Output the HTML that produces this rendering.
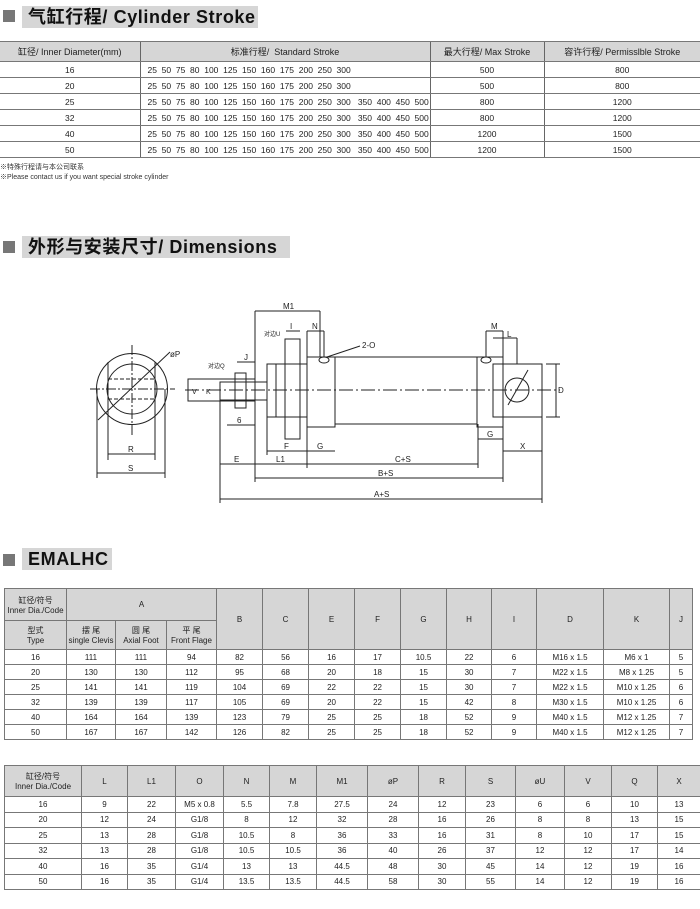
<!DOCTYPE html>
<html><head><meta charset="utf-8"><style>
*{margin:0;padding:0;box-sizing:border-box}
body{width:700px;height:909px;background:#fff;position:relative;overflow:hidden;font-family:"Liberation Sans","Noto Sans CJK SC",sans-serif;color:#222}
.sq{position:absolute;left:3px;width:12px;height:12px;background:#777}
.tt{position:absolute;left:22px;background:#d6d6d6;font-weight:bold;font-size:18px;letter-spacing:0.6px;line-height:22px;padding-left:6px;color:#111;height:22px;white-space:nowrap}
table{position:absolute;border-collapse:collapse;table-layout:fixed}
td{text-align:center;font-size:8px;border:1px solid #777;padding:0;overflow:hidden;white-space:nowrap}
.g{background:#d6d6d6}
#t1 td{border-left:none;border-right:none;font-size:8.5px}
#t1 td.c{border-left:1.5px solid #666}
#t1 tr td{border-bottom:1.5px solid #777}
.n{position:absolute;left:0;font-size:7px;color:#333}
</style></head><body>
<div class="sq" style="top:10px"></div>
<div class="tt" style="top:6px;width:236px">气缸行程/ Cylinder Stroke</div>
<table id="t1" style="left:0;top:41px;width:700px">
<colgroup><col style="width:140px"><col style="width:290px"><col style="width:114px"><col style="width:156px"></colgroup>
<tr class="g" style="height:20px"><td style="font-size:9px">缸径/ Inner Diameter(mm)</td><td class="c" style="font-size:9px">标准行程/&nbsp; Standard Stroke</td><td class="c" style="font-size:9px">最大行程/ Max Stroke</td><td class="c" style="font-size:9px">容许行程/ Permisslble Stroke</td></tr>
<tr style="height:16px"><td>16</td><td class="c" style="text-align:left;padding-left:7px">25&nbsp; 50&nbsp; 75&nbsp; 80&nbsp; 100&nbsp; 125&nbsp; 150&nbsp; 160&nbsp; 175&nbsp; 200&nbsp; 250&nbsp; 300</td><td class="c">500</td><td class="c">800</td></tr>
<tr style="height:16px"><td>20</td><td class="c" style="text-align:left;padding-left:7px">25&nbsp; 50&nbsp; 75&nbsp; 80&nbsp; 100&nbsp; 125&nbsp; 150&nbsp; 160&nbsp; 175&nbsp; 200&nbsp; 250&nbsp; 300</td><td class="c">500</td><td class="c">800</td></tr>
<tr style="height:16px"><td>25</td><td class="c" style="text-align:left;padding-left:7px">25&nbsp; 50&nbsp; 75&nbsp; 80&nbsp; 100&nbsp; 125&nbsp; 150&nbsp; 160&nbsp; 175&nbsp; 200&nbsp; 250&nbsp; 300&nbsp;&nbsp; 350&nbsp; 400&nbsp; 450&nbsp; 500</td><td class="c">800</td><td class="c">1200</td></tr>
<tr style="height:16px"><td>32</td><td class="c" style="text-align:left;padding-left:7px">25&nbsp; 50&nbsp; 75&nbsp; 80&nbsp; 100&nbsp; 125&nbsp; 150&nbsp; 160&nbsp; 175&nbsp; 200&nbsp; 250&nbsp; 300&nbsp;&nbsp; 350&nbsp; 400&nbsp; 450&nbsp; 500</td><td class="c">800</td><td class="c">1200</td></tr>
<tr style="height:16px"><td>40</td><td class="c" style="text-align:left;padding-left:7px">25&nbsp; 50&nbsp; 75&nbsp; 80&nbsp; 100&nbsp; 125&nbsp; 150&nbsp; 160&nbsp; 175&nbsp; 200&nbsp; 250&nbsp; 300&nbsp;&nbsp; 350&nbsp; 400&nbsp; 450&nbsp; 500</td><td class="c">1200</td><td class="c">1500</td></tr>
<tr style="height:16px"><td>50</td><td class="c" style="text-align:left;padding-left:7px">25&nbsp; 50&nbsp; 75&nbsp; 80&nbsp; 100&nbsp; 125&nbsp; 150&nbsp; 160&nbsp; 175&nbsp; 200&nbsp; 250&nbsp; 300&nbsp;&nbsp; 350&nbsp; 400&nbsp; 450&nbsp; 500</td><td class="c">1200</td><td class="c">1500</td></tr>
</table>
<div class="n" style="top:162px">※特殊行程请与本公司联系</div>
<div class="n" style="top:172px">※Please contact us if you want special stroke cylinder</div>

<div class="sq" style="top:241px"></div>
<div class="tt" style="top:236px;width:268px">外形与安装尺寸/ Dimensions</div>

<svg style="position:absolute;left:0;top:0" width="700" height="909" font-family="Liberation Sans, sans-serif" font-size="8" fill="none" stroke="#222" stroke-width="1">
<circle cx="132" cy="389" r="35.5"/>
<circle cx="132" cy="389" r="25"/>
<line x1="108" y1="362" x2="108" y2="460"/><line x1="155" y1="362" x2="155" y2="460"/>
<line x1="97" y1="389" x2="97" y2="478"/><line x1="165" y1="389" x2="165" y2="478"/>
<line x1="108" y1="379" x2="155" y2="379" stroke-dasharray="4,2"/><line x1="108" y1="399" x2="155" y2="399" stroke-dasharray="4,2"/>
<line x1="90" y1="389" x2="175" y2="389" stroke-dasharray="10,2,2,2"/>
<line x1="132" y1="345" x2="132" y2="435" stroke-dasharray="10,2,2,2"/>
<line x1="98" y1="420" x2="170" y2="352"/>
<line x1="108" y1="454" x2="155" y2="454"/><line x1="97" y1="473" x2="165" y2="473"/>
<text x="128" y="452" fill="#222" stroke="none">R</text><text x="128" y="471" fill="#222" stroke="none">S</text>
<text x="170" y="357" fill="#222" stroke="none">øP</text>
<line x1="185" y1="390" x2="560" y2="390" stroke-dasharray="14,3,2,3"/>
<rect x="188" y="379" width="67" height="22"/>
<rect x="220" y="382" width="47" height="18"/>
<rect x="235" y="373" width="11" height="35"/>
<rect x="267" y="364" width="40" height="53"/>
<line x1="276" y1="364" x2="276" y2="417"/>
<rect x="285" y="339" width="15" height="100"/>
<rect x="307" y="357" width="28" height="70"/>
<rect x="335" y="357" width="142" height="67"/>
<rect x="477" y="357" width="26" height="70"/>
<rect x="493" y="364" width="49" height="53"/>
<circle cx="517" cy="390" r="12"/>
<line x1="508" y1="405" x2="528" y2="370"/>
<ellipse cx="324" cy="360" rx="5" ry="3"/><ellipse cx="486" cy="360" rx="5" ry="3"/>
<line x1="327" y1="357" x2="360" y2="346"/>
<text x="362" y="348" fill="#222" stroke="none">2-O</text>
<line x1="255" y1="311" x2="255" y2="482"/><line x1="320" y1="311" x2="320" y2="357"/>
<line x1="220" y1="400" x2="220" y2="503"/><line x1="307" y1="427" x2="307" y2="468"/>
<line x1="267" y1="417" x2="267" y2="455"/><line x1="503" y1="427" x2="503" y2="482"/>
<line x1="478" y1="424" x2="478" y2="468"/><line x1="542" y1="417" x2="542" y2="503"/>
<line x1="546" y1="364" x2="560" y2="364"/><line x1="546" y1="417" x2="560" y2="417"/><line x1="556" y1="364" x2="556" y2="417"/>
<text x="558" y="393" fill="#222" stroke="none">D</text>
<line x1="255" y1="311" x2="320" y2="311"/><text x="283" y="309" fill="#222" stroke="none">M1</text>
<line x1="307" y1="331" x2="324" y2="331"/><text x="312" y="329" fill="#222" stroke="none">N</text>
<line x1="307" y1="331" x2="307" y2="357"/><line x1="324" y1="331" x2="324" y2="357"/>
<line x1="286" y1="331" x2="300" y2="331"/><text x="290" y="329" fill="#222" stroke="none">I</text>
<line x1="486" y1="331" x2="503" y2="331"/><text x="491" y="329" fill="#222" stroke="none">M</text>
<line x1="486" y1="331" x2="486" y2="357"/><line x1="503" y1="331" x2="503" y2="357"/>
<line x1="493" y1="338" x2="517" y2="338"/><line x1="517" y1="338" x2="517" y2="364"/><text x="507" y="337" fill="#222" stroke="none">L</text>
<line x1="237" y1="362" x2="255" y2="362"/><text x="244" y="360" fill="#222" stroke="none">J</text>
<text x="208" y="368" fill="#222" stroke="none" font-size="6">对边Q</text>
<text x="264" y="336" fill="#222" stroke="none" font-size="6">对边U</text>
<line x1="188" y1="379" x2="188" y2="401"/><text x="192" y="394" fill="#222" stroke="none" font-size="7">V</text>
<text x="206" y="394" fill="#222" stroke="none" font-size="7">K</text>
<line x1="227" y1="425" x2="255" y2="425"/><text x="237" y="423" fill="#222" stroke="none">6</text>
<line x1="267" y1="451" x2="307" y2="451"/><text x="284" y="449" fill="#222" stroke="none">F</text>
<line x1="307" y1="451" x2="335" y2="451"/><text x="317" y="449" fill="#222" stroke="none">G</text>
<line x1="478" y1="439" x2="503" y2="439"/><text x="487" y="437" fill="#222" stroke="none">G</text>
<line x1="503" y1="451" x2="542" y2="451"/><text x="520" y="449" fill="#222" stroke="none">X</text>
<line x1="220" y1="464" x2="478" y2="464"/>
<text x="234" y="462" fill="#222" stroke="none">E</text><text x="276" y="462" fill="#222" stroke="none">L1</text><text x="395" y="462" fill="#222" stroke="none">C+S</text>
<line x1="255" y1="478" x2="503" y2="478"/><text x="378" y="476" fill="#222" stroke="none">B+S</text>
<line x1="220" y1="499" x2="542" y2="499"/><text x="374" y="497" fill="#222" stroke="none">A+S</text>
</svg>

<div class="sq" style="top:554px"></div>
<div class="tt" style="top:548px;width:90px">EMALHC</div>

<table style="left:4px;top:588px;width:688px">
<colgroup><col style="width:62px"><col style="width:49px"><col style="width:51px"><col style="width:50px"><col style="width:46px"><col style="width:46px"><col style="width:46px"><col style="width:46px"><col style="width:46px"><col style="width:45px"><col style="width:45px"><col style="width:67px"><col style="width:66px"><col style="width:23px"></colgroup>
<tr class="g" style="height:32px"><td>缸径/符号<br>Inner Dia./Code</td><td colspan="3">A</td><td rowspan="2">B</td><td rowspan="2">C</td><td rowspan="2">E</td><td rowspan="2">F</td><td rowspan="2">G</td><td rowspan="2">H</td><td rowspan="2">I</td><td rowspan="2">D</td><td rowspan="2">K</td><td rowspan="2">J</td></tr>
<tr class="g" style="height:29px"><td>型式<br>Type</td><td>摆 尾<br>single Clevis</td><td>圆 尾<br>Axial Foot</td><td>平 尾<br>Front Flage</td></tr>
<tr style="height:15px"><td>16</td><td>111</td><td>111</td><td>94</td><td>82</td><td>56</td><td>16</td><td>17</td><td>10.5</td><td>22</td><td>6</td><td>M16 x 1.5</td><td>M6 x 1</td><td>5</td></tr>
<tr style="height:15px"><td>20</td><td>130</td><td>130</td><td>112</td><td>95</td><td>68</td><td>20</td><td>18</td><td>15</td><td>30</td><td>7</td><td>M22 x 1.5</td><td>M8 x 1.25</td><td>5</td></tr>
<tr style="height:15px"><td>25</td><td>141</td><td>141</td><td>119</td><td>104</td><td>69</td><td>22</td><td>22</td><td>15</td><td>30</td><td>7</td><td>M22 x 1.5</td><td>M10 x 1.25</td><td>6</td></tr>
<tr style="height:15px"><td>32</td><td>139</td><td>139</td><td>117</td><td>105</td><td>69</td><td>20</td><td>22</td><td>15</td><td>42</td><td>8</td><td>M30 x 1.5</td><td>M10 x 1.25</td><td>6</td></tr>
<tr style="height:15px"><td>40</td><td>164</td><td>164</td><td>139</td><td>123</td><td>79</td><td>25</td><td>25</td><td>18</td><td>52</td><td>9</td><td>M40 x 1.5</td><td>M12 x 1.25</td><td>7</td></tr>
<tr style="height:15px"><td>50</td><td>167</td><td>167</td><td>142</td><td>126</td><td>82</td><td>25</td><td>25</td><td>18</td><td>52</td><td>9</td><td>M40 x 1.5</td><td>M12 x 1.25</td><td>7</td></tr>
</table>

<table style="left:4px;top:765px;width:696px">
<colgroup><col style="width:77px"><col style="width:46px"><col style="width:48px"><col style="width:48px"><col style="width:46px"><col style="width:47px"><col style="width:51px"><col style="width:51px"><col style="width:47px"><col style="width:50px"><col style="width:49px"><col style="width:47px"><col style="width:46px"><col style="width:43px"></colgroup>
<tr class="g" style="height:31px"><td>缸径/符号<br>Inner Dia./Code</td><td>L</td><td>L1</td><td>O</td><td>N</td><td>M</td><td>M1</td><td>øP</td><td>R</td><td>S</td><td>øU</td><td>V</td><td>Q</td><td>X</td></tr>
<tr style="height:15.5px"><td>16</td><td>9</td><td>22</td><td>M5 x 0.8</td><td>5.5</td><td>7.8</td><td>27.5</td><td>24</td><td>12</td><td>23</td><td>6</td><td>6</td><td>10</td><td>13</td></tr>
<tr style="height:15.5px"><td>20</td><td>12</td><td>24</td><td>G1/8</td><td>8</td><td>12</td><td>32</td><td>28</td><td>16</td><td>26</td><td>8</td><td>8</td><td>13</td><td>15</td></tr>
<tr style="height:15.5px"><td>25</td><td>13</td><td>28</td><td>G1/8</td><td>10.5</td><td>8</td><td>36</td><td>33</td><td>16</td><td>31</td><td>8</td><td>10</td><td>17</td><td>15</td></tr>
<tr style="height:15.5px"><td>32</td><td>13</td><td>28</td><td>G1/8</td><td>10.5</td><td>10.5</td><td>36</td><td>40</td><td>26</td><td>37</td><td>12</td><td>12</td><td>17</td><td>14</td></tr>
<tr style="height:15.5px"><td>40</td><td>16</td><td>35</td><td>G1/4</td><td>13</td><td>13</td><td>44.5</td><td>48</td><td>30</td><td>45</td><td>14</td><td>12</td><td>19</td><td>16</td></tr>
<tr style="height:15.5px"><td>50</td><td>16</td><td>35</td><td>G1/4</td><td>13.5</td><td>13.5</td><td>44.5</td><td>58</td><td>30</td><td>55</td><td>14</td><td>12</td><td>19</td><td>16</td></tr>
</table>
</body></html>
